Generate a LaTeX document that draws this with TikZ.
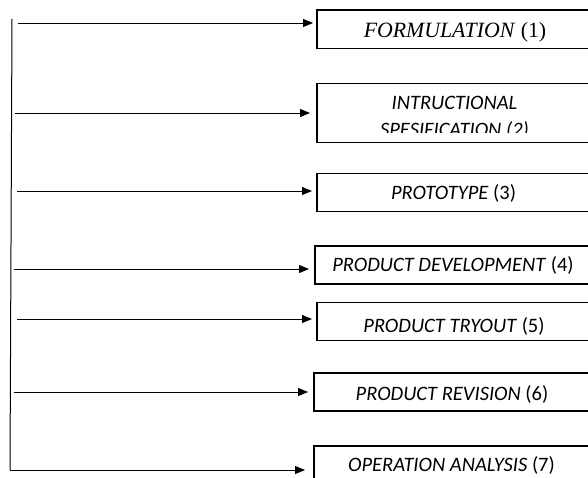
\documentclass[tikz,border=0pt]{standalone}
\usepackage{fontspec}
\setmainfont{Carlito}
\newfontfamily\timesfont{Liberation Serif}
\usetikzlibrary{arrows.meta}
\begin{document}
\begin{tikzpicture}[x=1pt,y=-1pt,
  box/.style={draw, line width=1.5pt, rectangle, anchor=north west, inner sep=0pt, minimum width=276pt},
  lbl/.style={anchor=base, inner sep=0pt, font=\fontsize{20.5}{24}\selectfont, text=black},
  arr/.style={-{Triangle[length=10pt,width=8pt]}, line width=0.9pt},
  trunk/.style={line width=1pt}]
\useasboundingbox (0,0) rectangle (588,478);
\begin{scope}
\clip (0,0) rectangle (588,478);
% boxes
\node[box, minimum height=38.4pt] (b1) at (316,9.3) {};
\node[box, minimum height=59pt] (b2) at (316,83) {};
\node[box, minimum height=38pt] (b3) at (316,173) {};
\node[box, minimum height=38pt] (b4) at (314,245) {};
\node[box, minimum height=38pt] (b5) at (316,301.5) {};
\node[box, minimum height=38pt] (b6) at (313,372) {};
\node[box, minimum height=45pt] (b7) at (313,445) {};
% labels
\node[lbl, font=\timesfont\fontsize{21.8}{25}\selectfont] (t1) at (455,37.7) {\textit{FORMULATION} (1)};
\node[lbl] (t2a) at (454.5,110) {\textit{INTRUCTIONAL}};
\begin{scope}
\clip (318,84) rectangle (588,133);
\node[lbl] (t2b) at (454.5,136.7) {\textit{SPESIFICATION (2)}};
\end{scope}
\node[lbl] (t3) at (453.5,199.3) {\textit{PROTOTYPE} (3)};
\node[lbl] (t4) at (453,271) {\textit{PRODUCT DEVELOPMENT} (4)};
\node[lbl] (t5) at (454,332) {\textit{PRODUCT TRYOUT} (5)};
\node[lbl] (t6) at (452,400) {\textit{PRODUCT REVISION} (6)};
\node[lbl] (t7) at (451.5,471) {\textit{OPERATION ANALYSIS} (7)};
% trunk
\coordinate (v1) at (12,19);
\coordinate (v2) at (10,470);
\draw[trunk] (v1) -- (v2);
% arrow starts
\coordinate (s1) at (18,23);
\coordinate (s2) at (15,113);
\coordinate (s3) at (17,191);
\coordinate (s4) at (14,269);
\coordinate (s5) at (17,319);
\coordinate (s6) at (14,392);
\coordinate (s7) at (10,470);
\draw[arr, shorten >=3pt] (s1) -- (s1 -| b1.west);
\draw[arr, shorten >=6pt] (s2) -- (s2 -| b2.west);
\draw[arr, shorten >=4pt] (s3) -- (s3 -| b3.west);
\draw[arr, shorten >=5pt] (s4) -- (s4 -| b4.west);
\draw[arr, shorten >=4pt] (s5) -- (s5 -| b5.west);
\draw[arr, shorten >=5pt] (s6) -- (s6 -| b6.west);
\draw[arr, shorten >=8pt] (s7) -- (s7 -| b7.west);
\end{scope}
\end{tikzpicture}
\end{document}
